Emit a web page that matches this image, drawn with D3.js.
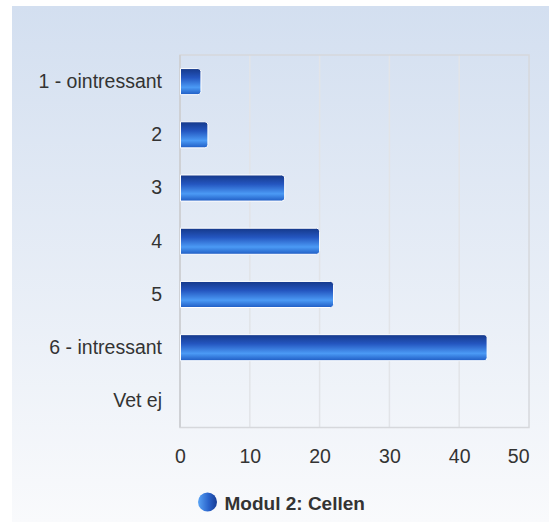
<!DOCTYPE html>
<html><head><meta charset="utf-8">
<script src="https://cdn.jsdelivr.net/npm/d3@7"></script>
<style>
html,body{margin:0;padding:0;background:#fff;}
svg{display:block;font-family:"Liberation Sans",Arial,sans-serif;}
</style></head>
<body>
<svg id="c" width="549" height="522"></svg>
<script>
const categories = ["1 - ointressant","2","3","4","5","6 - intressant","Vet ej"];
const values = [3,4,15,20,22,44,0];
const ticks = [0,10,20,30,40,50];
const seriesName = "Modul 2: Cellen";

const svg = d3.select("#c");
const defs = svg.append("defs");
const bg = defs.append("linearGradient").attr("id","bg").attr("x1",0).attr("y1",0).attr("x2",0).attr("y2",1);
bg.append("stop").attr("offset","0%").attr("stop-color","#d3dff0");
bg.append("stop").attr("offset","100%").attr("stop-color","#f9fafc");
const bar = defs.append("linearGradient").attr("id","bar").attr("x1",0).attr("y1",0).attr("x2",0).attr("y2",1);
bar.append("stop").attr("offset","0%").attr("stop-color","#153889");
bar.append("stop").attr("offset","35%").attr("stop-color","#2456c0");
bar.append("stop").attr("offset","72%").attr("stop-color","#4b9af5");
bar.append("stop").attr("offset","100%").attr("stop-color","#1f5cc4");
const lg = defs.append("linearGradient").attr("id","lg").attr("x1",0).attr("y1",0).attr("x2",1).attr("y2",0);
lg.append("stop").attr("offset","0%").attr("stop-color","#5aa4f5");
lg.append("stop").attr("offset","55%").attr("stop-color","#2a64cc");
lg.append("stop").attr("offset","100%").attr("stop-color","#173c94");

svg.append("rect").attr("x",12).attr("y",6).attr("width",537).attr("height",516).attr("fill","url(#bg)");

const L=180, R=529, T=55, B=427.5;
const x = d3.scaleLinear().domain([0,50]).range([L,R]);
const y = d3.scaleBand().domain(categories).range([T,B]).paddingInner(0.51).paddingOuter(0.255);

// grid
svg.append("g").selectAll("line").data(ticks.slice(1,-1)).join("line")
  .attr("x1",d=>x(d)).attr("x2",d=>x(d)).attr("y1",T).attr("y2",B)
  .attr("stroke","#e2e4e8").attr("stroke-width",1.5);
svg.append("rect").attr("x",L).attr("y",T).attr("width",R-L).attr("height",B-T)
  .attr("fill","none").attr("stroke","#d6d8dc").attr("stroke-width",1.5);
svg.append("line").attr("x1",L).attr("x2",L).attr("y1",T).attr("y2",B).attr("stroke","#cfd1d5").attr("stroke-width",2);

// bars
svg.append("g").selectAll("path").data(values.map((v,i)=>({v,c:categories[i]})).filter(d=>d.v>0)).join("path")
  .attr("d",d=>{
    const x0=x(0)+0.5, x1=x(d.v), y0=y(d.c), h=y.bandwidth(), r=3;
    return `M${x0},${y0}H${x1-r}Q${x1},${y0} ${x1},${y0+r}V${y0+h-r}Q${x1},${y0+h} ${x1-r},${y0+h}H${x0}Z`;
  })
  .attr("fill","url(#bar)").attr("stroke","#ffffff").attr("stroke-width",1);

// axes
const yAxis = d3.axisLeft(y).tickSize(0).tickPadding(18);
const gy = svg.append("g").attr("transform",`translate(${L},0)`).call(yAxis);
gy.select(".domain").remove();
gy.selectAll("text").attr("font-size",19.5).attr("fill","#333").attr("font-family","Liberation Sans, Arial, sans-serif");

const xAxis = d3.axisBottom(x).tickValues(ticks).tickSize(0).tickPadding(22);
const gx = svg.append("g").attr("transform",`translate(0,${B})`).call(xAxis);
gx.select(".domain").remove();
gx.selectAll("text").attr("font-size",19.5).attr("fill","#333").attr("font-family","Liberation Sans, Arial, sans-serif");
// last label kept inside the chart edge
gx.selectAll(".tick").filter(d=>d===ticks[ticks.length-1]).select("text")
  .attr("text-anchor","end").attr("x",0);

// legend
const leg = svg.append("g").attr("transform","translate(207.5,502)");
leg.append("circle").attr("r",9.5).attr("fill","url(#lg)");
leg.append("text").attr("x",17).attr("y",8).attr("font-size",19).attr("font-weight","bold").attr("fill","#333").text(seriesName);
</script>
</body></html>
